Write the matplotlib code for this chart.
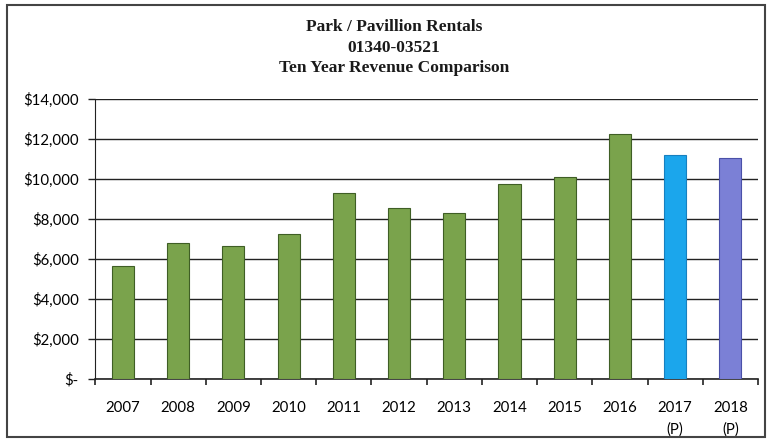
import matplotlib.pyplot as plt
from matplotlib.patches import Rectangle
from matplotlib.ticker import FuncFormatter

# revenue by year (2017 and 2018 are projections)
years = ['2007', '2008', '2009', '2010', '2011', '2012', '2013', '2014',
         '2015', '2016', '2017\n(P)', '2018\n(P)']
revenue = [5660, 6780, 6660, 7230, 9290, 8540, 8300, 9740,
           10120, 12250, 11190, 11040]
bar_colors = ['#7aa34c'] * 10 + ['#1ba6ec', '#7b80d6']
edge_colors = ['#3f5e25'] * 10 + ['#1780c0', '#4a50a8']

fig = plt.figure(figsize=(7.68, 4.42), dpi=100)
ax = fig.add_axes([0.1242, 0.1434, 0.8628, 0.6319])

x = list(range(len(years)))
ax.bar(x, revenue, width=0.4, color=bar_colors, edgecolor=edge_colors,
       linewidth=0.8, zorder=3)

ax.set_xlim(-0.5, len(years) - 0.5)
ax.set_ylim(0, 14000)
ax.set_yticks(range(0, 14001, 2000))

def money(v, pos):
    if v == 0:
        return '$-'
    return '${:,.0f}'.format(v)

ax.yaxis.set_major_formatter(FuncFormatter(money))
ax.grid(axis='y', color='#222222', linewidth=1.0, zorder=0)

# category labels centred on bars, tick marks between categories
ax.set_xticks(x)
ax.set_xticklabels(years, fontfamily='Lato', fontsize=10.8, linespacing=1.7)
ax.set_xticks([i + 0.5 for i in range(-1, len(years))], minor=True)
ax.tick_params(axis='x', which='major', length=0, pad=16)
ax.tick_params(axis='x', which='minor', length=4, width=1.2, color='#222222')
ax.tick_params(axis='y', length=5, width=1.0, color='#222222', pad=7)
for lbl in ax.get_yticklabels():
    lbl.set_fontfamily('Lato')
    lbl.set_fontsize(10.8)

for side in ['top', 'right']:
    ax.spines[side].set_visible(False)
ax.spines['left'].set_color('#222222')
ax.spines['bottom'].set_color('#222222')
ax.spines['bottom'].set_linewidth(1.2)

# three-line title
title_lines = ['Park / Pavillion Rentals', '01340-03521', 'Ten Year Revenue Comparison']
for i, line in enumerate(title_lines):
    fig.text(0.513, 1 - (27 + 20.5 * i) / 442, line, ha='center', va='center',
             fontfamily='Liberation Serif', fontweight='bold', fontsize=12.5,
             color='#1a1a1a')

# outer chart frame
fig.patches.append(Rectangle((7 / 768, 5 / 442), 758 / 768, 432 / 442,
                             transform=fig.transFigure, fill=False,
                             edgecolor='#444444', linewidth=1.5))

fig.savefig('out.png', dpi=100)
